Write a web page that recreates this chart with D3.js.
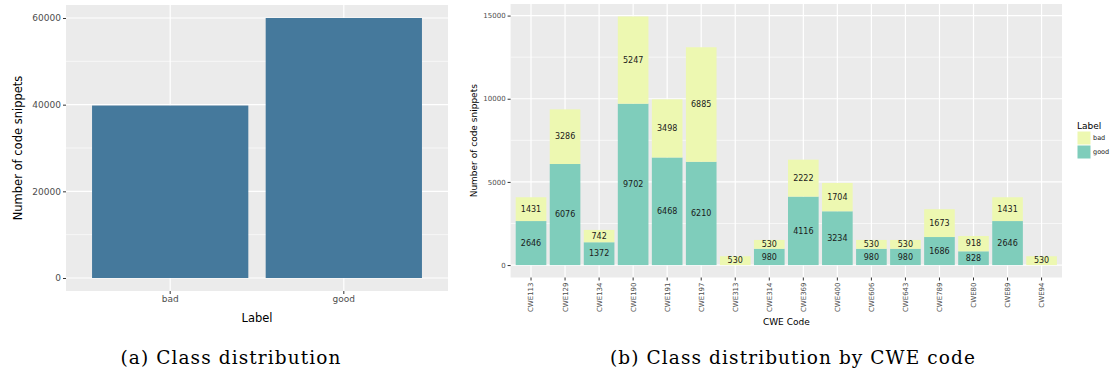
<!DOCTYPE html>
<html>
<head>
<meta charset="utf-8">
<script src="https://cdn.jsdelivr.net/npm/d3@7"></script>
<style>
  body { margin: 0; background: #fff; }
  svg { display: block; }
  text { font-family: "DejaVu Sans", sans-serif; }
  .caption { font-family: "DejaVu Serif", serif; font-size: 18.5px; letter-spacing: 1.1px; }
</style>
</head>
<body>
<svg id="fig" width="1111" height="376"></svg>
<script>
// (a) overall class counts
const labels = ['bad', 'good'];
const labelCounts = [39800, 60000];
const yTicksA = [0, 20000, 40000, 60000];

// (b) counts per CWE code
const cweCodes = ['CWE113', 'CWE129', 'CWE134', 'CWE190', 'CWE191', 'CWE197', 'CWE313', 'CWE314',
  'CWE369', 'CWE400', 'CWE606', 'CWE643', 'CWE789', 'CWE80', 'CWE89', 'CWE94'];
const goodCounts = [2646, 6076, 1372, 9702, 6468, 6210, 0, 980, 4116, 3234, 980, 980, 1686, 828, 2646, 0];
const badCounts = [1431, 3286, 742, 5247, 3498, 6885, 530, 530, 2222, 1704, 530, 530, 1673, 918, 1431, 530];
const yTicksB = [0, 5000, 10000, 15000];
const legendKeys = ['bad', 'good'];

const panelBg = '#ebebeb';
const barColor = '#45799c';
const fillColors = { bad: '#edf8b1', good: '#7fcdbb' };

const svg = d3.select('#fig');

// helper: grey panel with major/minor gridlines
function drawPanel(g, x, y, ticks, left, right, top, bottom) {
  g.append('rect')
      .attr('x', left).attr('y', top)
      .attr('width', right - left).attr('height', bottom - top)
      .attr('fill', panelBg);

  const minor = [];
  for (let i = 0; i < ticks.length - 1; i++) minor.push((ticks[i] + ticks[i + 1]) / 2);
  g.selectAll('.minor').data(minor).enter().append('line')
      .attr('x1', left).attr('x2', right)
      .attr('y1', d => y(d)).attr('y2', d => y(d))
      .attr('stroke', '#fff').attr('stroke-width', 0.6);
  g.selectAll('.major').data(ticks).enter().append('line')
      .attr('x1', left).attr('x2', right)
      .attr('y1', d => y(d)).attr('y2', d => y(d))
      .attr('stroke', '#fff').attr('stroke-width', 1.2);
  g.selectAll('.vmajor').data(x.domain()).enter().append('line')
      .attr('x1', d => x(d) + x.bandwidth() / 2).attr('x2', d => x(d) + x.bandwidth() / 2)
      .attr('y1', top).attr('y2', bottom)
      .attr('stroke', '#fff').attr('stroke-width', 1.2);
}

function styleAxis(axisG, fontSize) {
  axisG.select('.domain').remove();
  axisG.selectAll('.tick line').attr('stroke', '#333');
  axisG.selectAll('.tick text')
      .attr('fill', '#4d4d4d')
      .style('font-size', fontSize + 'px')
      .style('font-family', '"DejaVu Sans", sans-serif');
}

///////////////////////////////////////////////////////////////
// panel (a)
{
  const left = 66, right = 448, top = 5, bottom = 291;
  const g = svg.append('g');

  const x = d3.scaleBand().domain(labels).range([left, right])
      .paddingInner(0.1).paddingOuter(0.15);
  const maxV = d3.max(labelCounts);
  const y = d3.scaleLinear().domain([-0.05 * maxV, 1.05 * maxV]).range([bottom, top]);

  drawPanel(g, x, y, yTicksA, left, right, top, bottom);

  g.selectAll('.bar').data(labels).enter().append('rect')
      .attr('x', d => x(d))
      .attr('width', x.bandwidth())
      .attr('y', (d, i) => y(labelCounts[i]))
      .attr('height', (d, i) => y(0) - y(labelCounts[i]))
      .attr('fill', barColor);

  const yAxis = g.append('g')
      .attr('transform', 'translate(' + left + ',0)')
      .call(d3.axisLeft(y).tickValues(yTicksA).tickFormat(d3.format('d')).tickSize(3).tickPadding(2));
  styleAxis(yAxis, 9);

  const xAxis = g.append('g')
      .attr('transform', 'translate(0,' + bottom + ')')
      .call(d3.axisBottom(x).tickSize(3).tickPadding(2));
  styleAxis(xAxis, 9);

  g.append('text')
      .attr('transform', 'translate(22,' + (top + bottom) / 2 + ') rotate(-90)')
      .attr('text-anchor', 'middle')
      .style('font-size', '11.5px')
      .text('Number of code snippets');

  g.append('text')
      .attr('x', (left + right) / 2).attr('y', 322)
      .attr('text-anchor', 'middle')
      .style('font-size', '11.5px')
      .text('Label');

  svg.append('text').attr('class', 'caption')
      .attr('x', 231).attr('y', 364)
      .attr('text-anchor', 'middle')
      .text('(a) Class distribution');
}

///////////////////////////////////////////////////////////////
// panel (b)
{
  const left = 510.6, right = 1062, top = 4, bottom = 277.5;
  const g = svg.append('g');

  const rows = cweCodes.map((c, i) => ({ code: c, good: goodCounts[i], bad: badCounts[i] }));
  const stacked = d3.stack().keys(['good', 'bad'])(rows);

  const x = d3.scaleBand().domain(cweCodes).range([left, right])
      .paddingInner(0.1).paddingOuter(0.15);
  const maxV = d3.max(rows, r => r.good + r.bad);
  const y = d3.scaleLinear().domain([-0.05 * maxV, 1.05 * maxV]).range([bottom, top]);

  drawPanel(g, x, y, yTicksB, left, right, top, bottom);

  const layer = g.selectAll('.layer').data(stacked).enter().append('g')
      .attr('fill', d => fillColors[d.key]);

  layer.selectAll('rect').data(d => d.filter(s => s[1] > s[0])).enter().append('rect')
      .attr('x', d => x(d.data.code))
      .attr('width', x.bandwidth())
      .attr('y', d => y(d[1]))
      .attr('height', d => y(d[0]) - y(d[1]));

  layer.selectAll('text').data(d => d.filter(s => s[1] > s[0]).map(s => ({ s: s, key: d.key }))).enter().append('text')
      .attr('x', d => x(d.s.data.code) + x.bandwidth() / 2)
      .attr('y', d => y((d.s[0] + d.s[1]) / 2))
      .attr('dy', '0.35em')
      .attr('text-anchor', 'middle')
      .attr('fill', '#1a1a1a')
      .style('font-size', '8px')
      .text(d => d.s.data[d.key]);

  const yAxis = g.append('g')
      .attr('transform', 'translate(' + left + ',0)')
      .call(d3.axisLeft(y).tickValues(yTicksB).tickFormat(d3.format('d')).tickSize(3).tickPadding(2));
  styleAxis(yAxis, 7);

  const xAxis = g.append('g')
      .attr('transform', 'translate(0,' + bottom + ')')
      .call(d3.axisBottom(x).tickSize(3).tickPadding(2));
  styleAxis(xAxis, 7);
  xAxis.selectAll('.tick text')
      .attr('transform', 'rotate(-90)')
      .attr('text-anchor', 'end')
      .attr('x', -5)
      .attr('y', 0)
      .attr('dy', '0.35em');

  g.append('text')
      .attr('transform', 'translate(477,' + (top + bottom) / 2 + ') rotate(-90)')
      .attr('text-anchor', 'middle')
      .style('font-size', '9px')
      .text('Number of code snippets');

  g.append('text')
      .attr('x', (left + right) / 2).attr('y', 325)
      .attr('text-anchor', 'middle')
      .style('font-size', '9px')
      .text('CWE Code');

  // legend
  const lg = svg.append('g').attr('transform', 'translate(1077,0)');
  lg.append('text').attr('x', 0).attr('y', 129)
      .style('font-size', '9px').text('Label');
  lg.selectAll('rect').data(legendKeys).enter().append('rect')
      .attr('x', 0.5).attr('y', (d, i) => 131.5 + i * 14)
      .attr('width', 13).attr('height', 13)
      .attr('fill', d => fillColors[d]);
  lg.selectAll('.lab').data(legendKeys).enter().append('text')
      .attr('x', 16).attr('y', (d, i) => 138 + i * 14)
      .attr('dy', '0.35em')
      .attr('fill', '#1a1a1a')
      .style('font-size', '6.5px')
      .text(d => d);

  svg.append('text').attr('class', 'caption')
      .attr('x', 793).attr('y', 364)
      .attr('text-anchor', 'middle')
      .text('(b) Class distribution by CWE code');
}
</script>
</body>
</html>
